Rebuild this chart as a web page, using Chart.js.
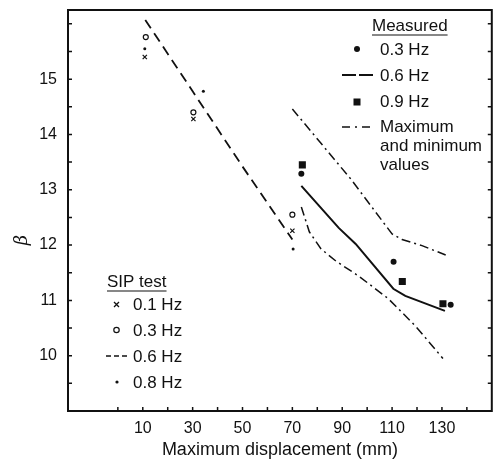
<!DOCTYPE html>
<html>
<head>
<meta charset="utf-8">
<script src="https://cdn.jsdelivr.net/npm/chart.js@4.4.1/dist/chart.umd.min.js"></script>
<style>
  html, body { margin: 0; padding: 0; background: #fff; }
  #wrap { width: 497px; height: 462px; position: relative; }
</style>
</head>
<body>
<div id="wrap"><canvas id="chart"></canvas></div>
<script>
// Tick labels
const xTickLabels = [10, 30, 50, 70, 90, 110, 130];
const yTickLabels = [10, 11, 12, 13, 14, 15];

// SIP test
const sip01X = [10.8, 30.3, 70.0];
const sip01Y = [15.40, 14.28, 12.26];
const sip03X = [11.2, 30.3, 70.0];
const sip03Y = [15.76, 14.40, 12.55];
const sip06X = [11.0, 30.0, 50.0, 70.0];
const sip06Y = [16.07, 14.78, 13.42, 12.10];
const sip08X = [10.8, 34.3, 70.3];
const sip08Y = [15.55, 14.78, 11.93];

// Measured
const meas03X = [73.6, 110.6, 133.5];
const meas03Y = [13.29, 11.70, 10.92];
const meas06X = [73.6, 81.9, 88.6, 95.4, 110.5, 115.3, 131.2];
const meas06Y = [13.07, 12.65, 12.31, 12.02, 11.21, 11.08, 10.81];
const meas09X = [74.0, 114.1, 130.4];
const meas09Y = [13.45, 11.34, 10.94];
const maxX = [70.0, 93.5, 110.0, 114.0, 122.0, 131.5];
const maxY = [14.46, 13.19, 12.20, 12.10, 11.99, 11.82];
const minX = [73.6, 76.8, 81.5, 87.5, 96.6, 108.5, 119.3, 130.4];
const minY = [12.69, 12.24, 11.93, 11.71, 11.44, 11.03, 10.54, 9.95];

const measuredLabels = ['0.3 Hz', '0.6 Hz', '0.9 Hz', 'Maximum', 'and minimum', 'values'];
const sipLabels = ['0.1 Hz', '0.3 Hz', '0.6 Hz', '0.8 Hz'];

function pts(xs, ys) {
    return xs.map((x, i) => ({ x: x, y: ys[i] }));
}

const INK = '#111';
const FONT = '"Liberation Sans", Arial, sans-serif';

// Box, inward ticks, beta label and the two legends
const decorPlugin = {
    id: 'decor',
    afterDraw(chart) {
        const ctx = chart.ctx;
        const a = chart.chartArea;
        const xs = chart.scales.x;
        const ys = chart.scales.y;
        ctx.save();
        ctx.strokeStyle = INK;
        ctx.fillStyle = INK;
        ctx.lineWidth = 2;
        ctx.setLineDash([]);
        ctx.strokeRect(a.left, a.top, a.right - a.left, a.bottom - a.top);

        ctx.lineWidth = 1.5;
        for (let v = 0; v <= 140; v += 10) {
            const px = xs.getPixelForValue(v);
            ctx.beginPath();
            ctx.moveTo(px, a.bottom);
            ctx.lineTo(px, a.bottom - 4);
            ctx.stroke();
        }
        for (let v = 9.5; v <= 16; v += 0.5) {
            const py = ys.getPixelForValue(v);
            ctx.beginPath();
            ctx.moveTo(a.left, py);
            ctx.lineTo(a.left + 4, py);
            ctx.moveTo(a.right, py);
            ctx.lineTo(a.right - 4, py);
            ctx.stroke();
        }

        // y axis symbol
        ctx.save();
        ctx.translate(22, 240);
        ctx.rotate(-Math.PI / 2);
        ctx.font = 'italic 18px "DejaVu Serif", serif';
        ctx.textAlign = 'center';
        ctx.textBaseline = 'middle';
        ctx.fillText('β', 0, 0);
        ctx.restore();

        ctx.font = '17px ' + FONT;
        ctx.textBaseline = 'middle';
        ctx.textAlign = 'left';

        // Measured legend
        const hx = 372, tx = 380;
        ctx.fillText('Measured', hx, 26);
        const mw = ctx.measureText('Measured').width;
        ctx.lineWidth = 1.2;
        ctx.beginPath();
        ctx.moveTo(hx, 35); ctx.lineTo(hx + mw, 35); ctx.stroke();

        ctx.beginPath(); ctx.arc(357, 49, 3, 0, Math.PI * 2); ctx.fill();
        ctx.fillText(measuredLabels[0], tx, 50);

        ctx.lineWidth = 2;
        ctx.setLineDash([14, 3]);
        ctx.beginPath(); ctx.moveTo(342, 75); ctx.lineTo(373, 75); ctx.stroke();
        ctx.setLineDash([]);
        ctx.fillText(measuredLabels[1], tx, 76);

        ctx.fillRect(353.5, 98.5, 7, 7);
        ctx.fillText(measuredLabels[2], tx, 102);

        ctx.lineWidth = 1.5;
        ctx.setLineDash([8, 5, 2, 5]);
        ctx.beginPath(); ctx.moveTo(342, 127); ctx.lineTo(373, 127); ctx.stroke();
        ctx.setLineDash([]);
        ctx.fillText(measuredLabels[3], tx, 127);
        ctx.fillText(measuredLabels[4], tx, 146);
        ctx.fillText(measuredLabels[5], tx, 165);

        // SIP test legend
        const sx = 107, st = 133;
        ctx.fillText('SIP test', sx, 282);
        const sw = ctx.measureText('SIP test').width;
        ctx.lineWidth = 1.2;
        ctx.beginPath(); ctx.moveTo(sx, 291); ctx.lineTo(sx + sw, 291); ctx.stroke();

        ctx.lineWidth = 1.3;
        ctx.beginPath();
        ctx.moveTo(114, 302); ctx.lineTo(119, 307);
        ctx.moveTo(119, 302); ctx.lineTo(114, 307);
        ctx.stroke();
        ctx.fillText(sipLabels[0], st, 305);

        ctx.lineWidth = 1.2;
        ctx.beginPath(); ctx.arc(116.5, 330, 2.7, 0, Math.PI * 2); ctx.stroke();
        ctx.fillText(sipLabels[1], st, 331);

        ctx.lineWidth = 1.5;
        ctx.setLineDash([5, 3]);
        ctx.beginPath(); ctx.moveTo(106, 356); ctx.lineTo(130, 356); ctx.stroke();
        ctx.setLineDash([]);
        ctx.fillText(sipLabels[2], st, 357);

        ctx.beginPath(); ctx.arc(117, 382, 1.6, 0, Math.PI * 2); ctx.fill();
        ctx.fillText(sipLabels[3], st, 383);

        ctx.restore();
    }
};

const ctx = document.getElementById('chart').getContext('2d');
new Chart(ctx, {
    type: 'scatter',
    data: {
        datasets: [
            {
                label: 'SIP 0.6 Hz',
                data: pts(sip06X, sip06Y),
                showLine: true,
                borderColor: INK,
                borderWidth: 1.8,
                borderDash: [10, 6],
                pointRadius: 0,
                fill: false
            },
            {
                label: 'SIP 0.1 Hz',
                data: pts(sip01X, sip01Y),
                pointStyle: 'crossRot',
                pointRadius: 3,
                borderColor: INK,
                borderWidth: 1.2
            },
            {
                label: 'SIP 0.3 Hz',
                data: pts(sip03X, sip03Y),
                pointStyle: 'circle',
                pointRadius: 2.5,
                backgroundColor: '#fff',
                borderColor: INK,
                borderWidth: 1.2
            },
            {
                label: 'SIP 0.8 Hz',
                data: pts(sip08X, sip08Y),
                pointStyle: 'circle',
                pointRadius: 1.5,
                backgroundColor: INK,
                borderColor: INK,
                borderWidth: 0
            },
            {
                label: 'Measured 0.6 Hz',
                data: pts(meas06X, meas06Y),
                showLine: true,
                borderColor: INK,
                borderWidth: 2,
                pointRadius: 0,
                fill: false
            },
            {
                label: 'Maximum',
                data: pts(maxX, maxY),
                showLine: true,
                borderColor: INK,
                borderWidth: 1.5,
                borderDash: [9, 4, 2, 4],
                pointRadius: 0,
                fill: false
            },
            {
                label: 'Minimum',
                data: pts(minX, minY),
                showLine: true,
                borderColor: INK,
                borderWidth: 1.5,
                borderDash: [9, 4, 2, 4],
                pointRadius: 0,
                fill: false
            },
            {
                label: 'Measured 0.3 Hz',
                data: pts(meas03X, meas03Y),
                pointStyle: 'circle',
                pointRadius: 3,
                backgroundColor: INK,
                borderColor: INK,
                borderWidth: 0
            },
            {
                label: 'Measured 0.9 Hz',
                data: pts(meas09X, meas09Y),
                pointStyle: 'rect',
                pointRadius: 5,
                backgroundColor: INK,
                borderColor: INK,
                borderWidth: 0
            }
        ]
    },
    options: {
        responsive: true,
        maintainAspectRatio: false,
        animation: false,
        layout: { padding: { left: 0, right: 2, top: 10, bottom: 0 } },
        plugins: {
            legend: { display: false },
            tooltip: { enabled: false }
        },
        scales: {
            x: {
                type: 'linear',
                min: -20,
                max: 150,
                grid: { display: false, drawTicks: false },
                border: { display: false },
                afterBuildTicks: (scale) => {
                    scale.ticks = xTickLabels.map(v => ({ value: v }));
                },
                afterFit: (scale) => {
                    scale.height = 51;
                    scale.paddingLeft = 0;
                    scale.paddingRight = 0;
                },
                ticks: {
                    color: INK,
                    padding: 8,
                    maxRotation: 0,
                    autoSkip: false,
                    font: { family: FONT, size: 16 }
                },
                title: {
                    display: true,
                    text: 'Maximum displacement (mm)',
                    color: INK,
                    padding: { top: 0, bottom: 1 },
                    font: { family: FONT, size: 18 }
                }
            },
            y: {
                type: 'linear',
                min: 9,
                max: 16.25,
                grid: { display: false, drawTicks: false },
                border: { display: false },
                afterBuildTicks: (scale) => {
                    scale.ticks = yTickLabels.map(v => ({ value: v }));
                },
                afterFit: (scale) => {
                    scale.width = 68;
                    scale.paddingTop = 0;
                    scale.paddingBottom = 0;
                },
                ticks: {
                    color: INK,
                    padding: 11,
                    autoSkip: false,
                    font: { family: FONT, size: 16 }
                }
            }
        }
    },
    plugins: [decorPlugin]
});
</script>
</body>
</html>
